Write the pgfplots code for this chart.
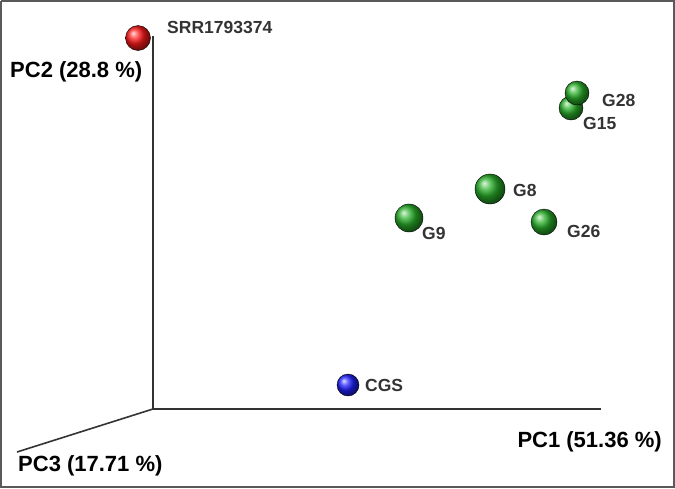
\documentclass[border=0pt]{standalone}
\usepackage{pgfplots}
\pgfplotsset{compat=1.18}
\usepackage{fontspec}
\setmainfont{Liberation Sans}
\definecolor{frame}{HTML}{5A5A5A}
\definecolor{axl}{HTML}{333333}
\definecolor{lab}{HTML}{333333}
\definecolor{gball}{HTML}{2AB02A}
\definecolor{rball}{HTML}{FF1A1A}
\definecolor{bball}{HTML}{2020FF}
\begin{document}
\begin{tikzpicture}
\begin{axis}[
  width=675pt, height=488pt, scale only axis,
  xmin=0, xmax=675, ymin=0, ymax=488, y dir=reverse,
  hide axis, clip=false,
]
% frame
\addplot[frame, line width=2pt, no marks] coordinates {(1,1) (674,1) (674,487) (1,487) (1,1)};
% 3D axes
\addplot[axl, line width=1.6pt, no marks] coordinates {(153,36) (153,409)};
\addplot[axl, line width=1.6pt, no marks] coordinates {(153,409) (601,409)};
\addplot[axl, line width=1.6pt, no marks] coordinates {(153,409) (17,452)};
% points
\addplot[only marks, mark=ball, ball color=rball, mark size=12.5pt] coordinates {(138,38)};
\addplot[only marks, mark=ball, ball color=gball, mark size=12pt] coordinates {(571,108)};
\addplot[only marks, mark=ball, ball color=gball, mark size=12pt] coordinates {(577,93)};
\addplot[only marks, mark=ball, ball color=gball, mark size=15pt] coordinates {(490,189)};
\addplot[only marks, mark=ball, ball color=gball, mark size=14pt] coordinates {(409,218)};
\addplot[only marks, mark=ball, ball color=gball, mark size=13pt] coordinates {(544,222)};
\addplot[only marks, mark=ball, ball color=bball, mark size=11pt] coordinates {(348,385)};
% sample labels
\begin{scope}[every node/.style={inner sep=0pt, anchor=west, text=lab, font=\fontsize{17.5}{20}\selectfont\bfseries}]
\node at (axis cs:167,27) {SRR1793374};
\node at (axis cs:602,100) {G28};
\node at (axis cs:583,123) {G15};
\node at (axis cs:513,190) {G8};
\node at (axis cs:422,233) {G9};
\node at (axis cs:567,231) {G26};
\node at (axis cs:365,385) {CGS};
\end{scope}
% axis labels
\begin{scope}[every node/.style={inner sep=0pt, text=black, font=\fontsize{22}{24}\selectfont\bfseries}]
\node[anchor=west] at (axis cs:10,72) {PC2 (28.8 \%)};
\node[anchor=east] at (axis cs:662,442) {PC1 (51.36 \%)};
\node[anchor=west] at (axis cs:18,466) {PC3 (17.71 \%)};
\end{scope}
\end{axis}
\end{tikzpicture}
\end{document}
